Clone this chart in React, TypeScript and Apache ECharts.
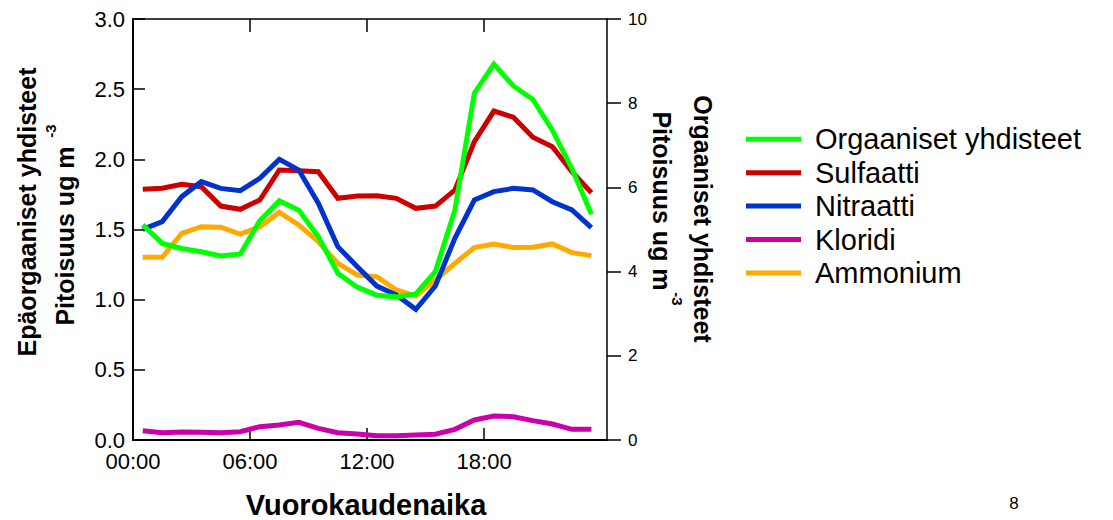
import React, { useEffect, useRef } from "react";
import * as echarts from "echarts";

const hours = [0.5, 1.5, 2.5, 3.5, 4.5, 5.5, 6.5, 7.5, 8.5, 9.5, 10.5, 11.5, 12.5, 13.5, 14.5, 15.5, 16.5, 17.5, 18.5, 19.5, 20.5, 21.5, 22.5, 23.5];

const orgaaniset = [5.11, 4.67, 4.55, 4.47, 4.37, 4.42, 5.21, 5.68, 5.46, 4.83, 3.96, 3.63, 3.44, 3.4, 3.47, 4.0, 5.46, 8.24, 8.93, 8.41, 8.09, 7.36, 6.45, 5.36];
const sulfaatti = [1.786, 1.794, 1.822, 1.805, 1.667, 1.644, 1.71, 1.924, 1.919, 1.912, 1.722, 1.739, 1.741, 1.722, 1.651, 1.667, 1.781, 2.126, 2.344, 2.3, 2.157, 2.09, 1.912, 1.762];
const nitraatti = [1.501, 1.556, 1.734, 1.841, 1.793, 1.777, 1.865, 2.0, 1.924, 1.687, 1.378, 1.235, 1.097, 1.033, 0.931, 1.097, 1.437, 1.71, 1.77, 1.793, 1.782, 1.698, 1.639, 1.513];
const kloridi = [0.066, 0.052, 0.057, 0.055, 0.052, 0.059, 0.095, 0.107, 0.126, 0.083, 0.052, 0.043, 0.031, 0.031, 0.036, 0.041, 0.076, 0.143, 0.171, 0.166, 0.138, 0.114, 0.076, 0.076];
const ammonium = [1.302, 1.302, 1.473, 1.52, 1.516, 1.468, 1.52, 1.622, 1.532, 1.413, 1.259, 1.176, 1.164, 1.069, 1.026, 1.14, 1.259, 1.371, 1.397, 1.371, 1.373, 1.397, 1.335, 1.314];

const xTickValues = [0, 6, 12, 18];
const xTickLabels = ["00:00", "06:00", "12:00", "18:00"];
const xInnerTicks = [6, 12, 18];

const seriesNames = ["Orgaaniset yhdisteet", "Sulfaatti", "Nitraatti", "Kloridi", "Ammonium"];

const FONT = '"Liberation Sans", Arial, Helvetica, sans-serif';

function pairs(vals: number[]) {
  return vals.map((v, i) => [hours[i], v]);
}

export default function App() {
  const ref = useRef<HTMLDivElement>(null);
  useEffect(() => {
    if (!ref.current) return;
    const chart = echarts.init(ref.current, null, { renderer: "svg" });
    const black = "#000";
    const mkLine = (name: string, data: number[], color: string, yIdx: number) => ({
      name,
      type: "line",
      xAxisIndex: 0,
      yAxisIndex: yIdx,
      data: pairs(data),
      showSymbol: false,
      symbol: "none",
      itemStyle: { color },
      lineStyle: { color, width: 5, join: "miter" },
    });
    const option: any = {
      animation: false,
      backgroundColor: "#fff",
      textStyle: { fontFamily: FONT },
      grid: { left: 133, right: 506, top: 19, bottom: 80, containLabel: false },
      legend: {
        show: true,
        orient: "vertical",
        left: 746,
        top: 122.6,
        padding: 0,
        data: seriesNames,
        icon: "rect",
        itemWidth: 55,
        itemHeight: 5,
        itemGap: 0,
        selectedMode: false,
        textStyle: { fontSize: 29, color: black, fontFamily: FONT, lineHeight: 33.4, padding: [0, 0, 0, 9] },
      },
      xAxis: [
        {
          type: "value",
          position: "bottom",
          min: 0,
          max: 24.3,
          axisLine: { show: true, onZero: false, lineStyle: { color: black, width: 2 } },
          axisTick: { show: true, inside: true, length: 12, customValues: xInnerTicks, lineStyle: { color: black, width: 1.5 } },
          axisLabel: {
            show: true,
            customValues: xTickValues,
            margin: 10,
            fontSize: 22,
            color: black,
            fontFamily: FONT,
            formatter: (v: number) => xTickLabels[xTickValues.indexOf(v)] ?? "",
          },
          splitLine: { show: false },
        },
        {
          type: "value",
          position: "top",
          min: 0,
          max: 24.3,
          axisLine: { show: true, onZero: false, lineStyle: { color: black, width: 1.5 } },
          axisTick: { show: true, inside: true, length: 13, customValues: xInnerTicks, lineStyle: { color: black, width: 1.5 } },
          axisLabel: { show: false },
          splitLine: { show: false },
        },
      ],
      yAxis: [
        {
          type: "value",
          position: "left",
          min: 0,
          max: 3,
          interval: 0.5,
          axisLine: { show: true, onZero: false, lineStyle: { color: black, width: 2 } },
          axisTick: { show: true, inside: true, length: 12, lineStyle: { color: black, width: 1.5 } },
          axisLabel: { fontSize: 22, color: black, margin: 8, fontFamily: FONT, formatter: (v: number) => v.toFixed(1) },
          splitLine: { show: false },
        },
        {
          type: "value",
          position: "right",
          min: 0,
          max: 10,
          interval: 2,
          axisLine: { show: true, onZero: false, lineStyle: { color: black, width: 1.5 } },
          axisTick: { show: true, inside: false, length: 14, lineStyle: { color: black, width: 1.5 } },
          axisLabel: { fontSize: 17, color: black, margin: 21, fontFamily: FONT },
          splitLine: { show: false },
        },
      ],
      series: [
        mkLine("Kloridi", kloridi, "#cc00aa", 0),
        mkLine("Ammonium", ammonium, "#ffaa00", 0),
        mkLine("Sulfaatti", sulfaatti, "#cc0000", 0),
        mkLine("Nitraatti", nitraatti, "#0033cc", 0),
        mkLine("Orgaaniset yhdisteet", orgaaniset, "#00ff00", 1),
      ],
      graphic: [
        {
          type: "text",
          x: 27,
          y: 212,
          rotation: Math.PI / 2,
          style: { text: "Epäorgaaniset yhdisteet", font: `bold 25px ${FONT}`, fill: black, align: "center", verticalAlign: "middle", textAlign: "center", textVerticalAlign: "middle" },
        },
        {
          type: "text",
          x: 65,
          y: 236,
          rotation: Math.PI / 2,
          style: { text: "Pitoisuus ug m", font: `bold 25px ${FONT}`, fill: black, align: "center", verticalAlign: "middle", textAlign: "center", textVerticalAlign: "middle" },
        },
        {
          type: "text",
          x: 50,
          y: 131,
          rotation: Math.PI / 2,
          style: { text: "-3", font: `bold 15px ${FONT}`, fill: black, align: "center", verticalAlign: "middle", textAlign: "center", textVerticalAlign: "middle" },
        },
        {
          type: "text",
          x: 703,
          y: 219,
          rotation: -Math.PI / 2,
          style: { text: "Orgaaniset yhdisteet", font: `bold 25px ${FONT}`, fill: black, align: "center", verticalAlign: "middle", textAlign: "center", textVerticalAlign: "middle" },
        },
        {
          type: "text",
          x: 662,
          y: 201,
          rotation: -Math.PI / 2,
          style: { text: "Pitoisuus ug m", font: `bold 25px ${FONT}`, fill: black, align: "center", verticalAlign: "middle", textAlign: "center", textVerticalAlign: "middle" },
        },
        {
          type: "text",
          x: 677,
          y: 299,
          rotation: -Math.PI / 2,
          style: { text: "-3", font: `bold 15px ${FONT}`, fill: black, align: "center", verticalAlign: "middle", textAlign: "center", textVerticalAlign: "middle" },
        },
        {
          type: "text",
          x: 366,
          y: 505,
          style: { text: "Vuorokaudenaika", font: `bold 29px ${FONT}`, fill: black, align: "center", verticalAlign: "middle", textAlign: "center", textVerticalAlign: "middle" },
        },
        {
          type: "text",
          x: 1014,
          y: 503,
          style: { text: "8", font: `17px ${FONT}`, fill: black, align: "center", verticalAlign: "middle", textAlign: "center", textVerticalAlign: "middle" },
        },
      ],
    };
    chart.setOption(option);
    return () => chart.dispose();
  }, []);
  return (
    <div
      ref={ref}
      style={{ position: "fixed", left: 0, top: 0, width: 1113, height: 520, background: "#fff" }}
    />
  );
}
